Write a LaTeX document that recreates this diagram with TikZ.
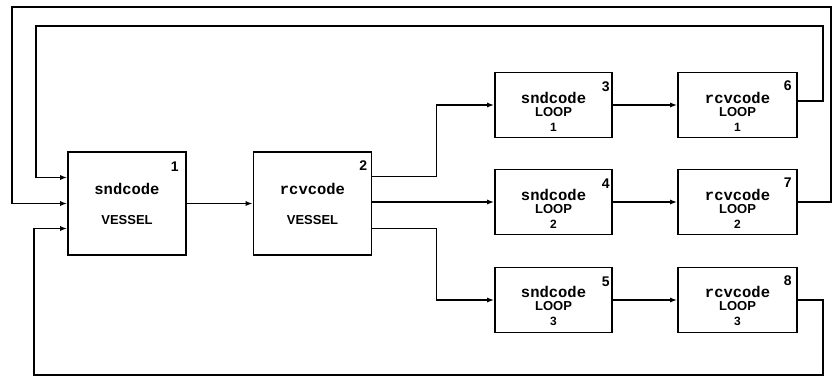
\documentclass[tikz,border=0pt]{standalone}
\usepackage{fontspec}
\setmainfont{Liberation Sans}
\setmonofont{Liberation Mono}
\usetikzlibrary{arrows.meta,positioning}

\tikzset{
  blk/.style={draw, line width=1.6pt, minimum width=118pt, minimum height=103pt, align=center, inner sep=0pt},
  loopblk/.style={blk, minimum width=117pt, minimum height=65pt},
  num/.style={font=\bfseries\fontsize{14}{14}\selectfont, inner sep=0pt},
  flow/.style={line width=1.6pt, -{Latex[length=7pt,width=5pt]}},
}
\newcommand{\code}[1]{{\ttfamily\bfseries\fontsize{15.5}{15}\selectfont #1}}
\newcommand{\kind}[1]{{\bfseries\fontsize{13}{14}\selectfont #1}}
\newcommand{\idx}[1]{{\bfseries\fontsize{12}{13}\selectfont #1}}
% loop block text, pushed a little below the centre
\newcommand{\looptext}[3]{\rule{0pt}{24pt}\code{#1}\\[1pt]\kind{#2}\\[3pt]\idx{#3}}

\begin{document}
\begin{tikzpicture}[x=1pt,y=-1pt]
  \useasboundingbox (0,0) rectangle (832,380);

  % vessel blocks
  \node[blk] (sv) at (127,203.5) {\code{sndcode}\\[18pt]\kind{VESSEL}};
  \node[blk] (rv) at (312.5,203.5) {\code{rcvcode}\\[18pt]\kind{VESSEL}};

  % loop blocks
  \node[loopblk] (sl1) at (553.5,105) {\looptext{sndcode}{LOOP}{1}};
  \node[loopblk] (sl2) at (553.5,202) {\looptext{sndcode}{LOOP}{2}};
  \node[loopblk] (sl3) at (553.5,300) {\looptext{sndcode}{LOOP}{3}};
  \node[loopblk, minimum width=119pt] (rl1) at (737.5,105) {\looptext{rcvcode}{LOOP}{1}};
  \node[loopblk, minimum width=119pt] (rl2) at (737.5,202) {\looptext{rcvcode}{LOOP}{2}};
  \node[loopblk, minimum width=119pt] (rl3) at (737.5,300) {\looptext{rcvcode}{LOOP}{3}};

  % block numbers
  \node[num, below left=10pt and 8pt of sv.north east] (n1) {1};
  \node[num, below left=9pt and 5pt of rv.north east] (n2) {2};
  \node[num, below left=10pt and 3pt of sl1.north east] (n3) {3};
  \node[num, below left=10pt and 3pt of sl2.north east] (n4) {4};
  \node[num, below left=10pt and 3pt of sl3.north east] (n5) {5};
  \node[num, below left=9pt and 6pt of rl1.north east] (n6) {6};
  \node[num, below left=9pt and 6pt of rl2.north east] (n7) {7};
  \node[num, below left=9pt and 6pt of rl3.north east] (n8) {8};

  % return path corners
  \coordinate (ne) at (831,7);
  \coordinate (nw) at (12,7);
  \coordinate (ie) at (823,26);
  \coordinate (iw) at (36,26);
  \coordinate (se) at (823,375);
  \coordinate (sw) at (34,375);

  % forward flow
  \draw[flow] (sv.east) -- (rv.west);
  \draw[flow] ([yshift=27pt]rv.east) -- ++(64,0) |- (sl1.west);
  \draw[flow] (rv.east |- sl2.west) -- (sl2.west);
  \draw[flow] ([yshift=-25pt]rv.east) -- ++(64,0) |- (sl3.west);
  \draw[flow] (sl1) -- (rl1);
  \draw[flow] (sl2) -- (rl2);
  \draw[flow] (sl3) -- (rl3);

  % returns into the vessel
  \draw[flow] ([yshift=4pt]rl1.east) -| (ie) -- (iw) |- ([yshift=26pt]sv.west);
  \draw[flow] (rl2.east) -| (ne) -- (nw) |- (sv.west);
  \draw[flow] (rl3.east) -| (se) -- (sw) |- ([yshift=-25pt]sv.west);
\end{tikzpicture}
\end{document}
